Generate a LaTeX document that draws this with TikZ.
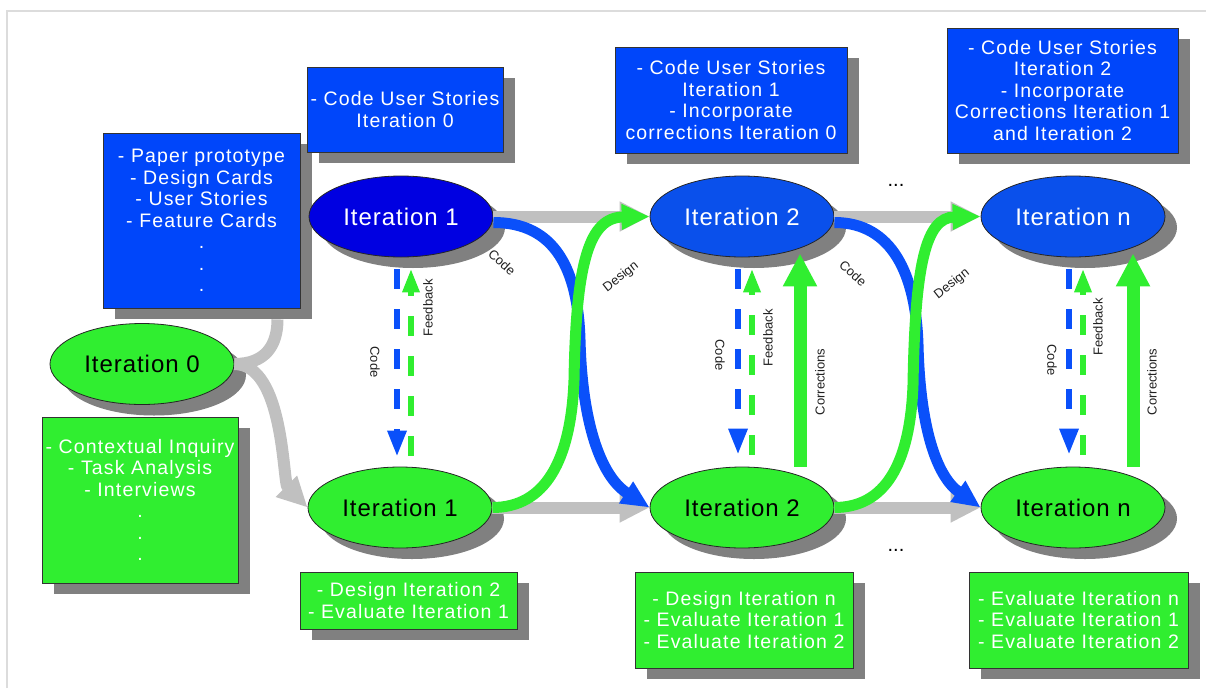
\documentclass[tikz,border=0pt]{standalone}
\usepackage{fontspec}
\setmainfont{Liberation Sans}
\newfontfamily\notefont[LetterSpace=6]{Liberation Sans}
\newfontfamily\iterfont[LetterSpace=4]{Liberation Sans}
\usetikzlibrary{arrows.meta,shapes.geometric,shadows,calc}

\definecolor{framegray}{HTML}{DCDCDC}
\definecolor{shadowgray}{HTML}{808080}
\definecolor{boxblue}{HTML}{0046FA}
\definecolor{ellblue}{HTML}{0A50EB}
\definecolor{deepblue}{HTML}{0000E1}
\definecolor{lime}{HTML}{30EE30}
\definecolor{arrowblue}{HTML}{0A50FA}
\definecolor{pathgray}{HTML}{C0C0C0}
\definecolor{labelgray}{HTML}{202020}

\tikzset{
  castshadow/.style={drop shadow={shadow xshift=12pt,shadow yshift=-11pt,fill=shadowgray,opacity=1}},
  iter/.style={ellipse, draw=black!85, line width=0.8pt, minimum width=184pt,
    minimum height=81pt, inner sep=0pt, font=\iterfont\fontsize{24}{30}\selectfont, castshadow},
  iterblue/.style={iter, fill=ellblue, text=white},
  iterdeep/.style={iter, fill=deepblue, text=white},
  itergreen/.style={iter, fill=lime, text=black},
  note/.style={rectangle, draw=black!80, line width=0.8pt, inner sep=0pt, align=center,
    text=white, font=\notefont\fontsize{19.5}{21.5}\selectfont, castshadow},
  noteblue/.style={note, fill=boxblue},
  notegreen/.style={note, fill=lime},
  graypath/.style={draw=pathgray, line width=12pt, -{Triangle[length=30pt,width=28pt]}},
  graystub/.style={draw=pathgray, line width=12pt},
  codecurve/.style={draw=arrowblue, line width=11pt, -{Triangle[length=28pt,width=24pt]}},
  designcurve/.style={draw=lime, line width=11pt, -{Triangle[length=28pt,width=24pt]}},
  codedash/.style={draw=arrowblue, line width=6pt, dash pattern=on 20pt off 20pt,
    -{Triangle[length=26pt,width=18pt]}},
  feeddash/.style={draw=lime, line width=6pt, dash pattern=on 20pt off 20pt,
    -{Triangle[length=24pt,width=16pt]}},
  corrarrow/.style={draw=lime, line width=13pt, -{Triangle[length=33pt,width=32pt]}},
  lbl/.style={font=\fontsize{13}{15}\selectfont, text=labelgray, inner sep=0pt},
  dots/.style={font=\fontsize{20}{22}\selectfont, inner sep=0pt}
}

\begin{document}
\begin{tikzpicture}[x=1pt,y=-1pt]
\useasboundingbox (0,0) rectangle (1206,688);

% page frame
\draw[framegray, line width=2.5pt] (7,688) -- (7,11) -- (1206,11);

% notes
\node[noteblue, minimum width=197pt, minimum height=175pt] (b0) at (201.5,220.5)
  {- Paper prototype\\- Design Cards\\- User Stories\\- Feature Cards\\.\\.\\.};
\node[noteblue, minimum width=196pt, minimum height=85pt] (b1) at (405,109.5)
  {- Code User Stories\\Iteration 0};
\node[noteblue, minimum width=232pt, minimum height=106pt] (b2) at (731,100)
  {- Code User Stories\\Iteration 1\\- Incorporate\\corrections Iteration 0};
\node[noteblue, minimum width=231pt, minimum height=125pt] (b3) at (1062.5,90.5)
  {- Code User Stories\\Iteration 2\\- Incorporate\\Corrections Iteration 1\\and Iteration 2};
\node[notegreen, minimum width=196pt, minimum height=166pt] (g0) at (140,500)
  {- Contextual Inquiry\\- Task Analysis\\- Interviews\\.\\.\\.};
\node[notegreen, minimum width=217pt, minimum height=57pt] (g1) at (408.5,600.5)
  {- Design Iteration 2\\- Evaluate Iteration 1};
\node[notegreen, minimum width=218pt, minimum height=96pt] (g2) at (744,620)
  {- Design Iteration n\\- Evaluate Iteration 1\\- Evaluate Iteration 2};
\node[notegreen, minimum width=219pt, minimum height=96pt] (g3) at (1078.5,620)
  {- Evaluate Iteration n\\- Evaluate Iteration 1\\- Evaluate Iteration 2};

% iterations
\node[itergreen] (it0) at (142,364) {Iteration 0};
\node[iterdeep]  (it1b) at (401,216.5) {Iteration 1};
\node[iterblue]  (it2b) at (742,216.5) {Iteration 2};
\node[iterblue]  (itnb) at (1073,216.5) {Iteration n};
\node[itergreen] (it1g) at (400,507.5) {Iteration 1};
\node[itergreen] (it2g) at (742,507.5) {Iteration 2};
\node[itergreen] (itng) at (1073,507.5) {Iteration n};

\node[dots] (gapt) at (896,185) {...};
\node[dots] (gapb) at (896,550) {...};

% iteration 0 branches
\coordinate (b0foot) at ($(b0.south)+(76,11)$);
\draw[graystub] (it0.east) .. controls +(31,0) and +(0,26) .. (b0foot);
\draw[graypath] (it0.east) .. controls +(50,0) and +(-25,-25) .. (it1g.west);

% straight progressions
\draw[graypath] (it1b.east) -- (it2b.west);
\draw[graypath] (it1g.east) -- (it2g.west);
\draw[graypath] (it2b.east) -- (itnb.west);
\draw[graypath] (it2g.east) -- (itng.west);

% crossing code / design flows
\coordinate (k1) at (580,340);
\coordinate (d1) at (574,380);
\coordinate (k2) at (918,345);
\coordinate (d2) at (913,385);
\draw[codecurve] ($(it1b.east)+(0,6)$) .. controls +(62,0) and +(-2,-70) .. (k1)
  .. controls +(2,80) and +(-50,-32) .. (it2g.west);
\draw[designcurve] (it1g.east) .. controls +(53,0) and +(-3,80) .. (d1)
  .. controls +(2,-120) and +(-60,1) .. (it2b.west);
\draw[codecurve] ($(it2b.east)+(0,6)$) .. controls +(58,0) and +(-2,-70) .. (k2)
  .. controls +(2,80) and +(-45,-32) .. (itng.west);
\draw[designcurve] (it2g.east) .. controls +(50,0) and +(-3,80) .. (d2)
  .. controls +(2,-120) and +(-55,1) .. (itnb.west);

\node[lbl, rotate=-42] (lc1) at (502,262) {Code};
\node[lbl, rotate=38]  (ld1) at (621,277) {Design};
\node[lbl, rotate=-42] (lc2) at (853,273) {Code};
\node[lbl, rotate=38]  (ld2) at (952,284) {Design};

% code / feedback loops
\draw[codedash] ($(it1b.south)+(-4,12)$) -- ($(it1g.north)+(-3,-10)$);
\draw[feeddash] ($(it1g.north)+(11,-11)$) -- ($(it1b.south)+(10,11)$);
\draw[codedash] ($(it2b.south)+(-4,12)$) -- ($(it2g.north)+(-4,-12)$);
\draw[feeddash] ($(it2g.north)+(10,-12)$) -- ($(it2b.south)+(10,11)$);
\draw[codedash] ($(itnb.south)+(-4,12)$) -- ($(itng.north)+(-4,-12)$);
\draw[feeddash] ($(itng.north)+(10,-12)$) -- ($(itnb.south)+(10,11)$);

\node[lbl, rotate=-90] (lk1) at (375,362) {Code};
\node[lbl, rotate=90]  (lf1) at (428,308) {Feedback};
\node[lbl, rotate=-90] (lk2) at (720,355) {Code};
\node[lbl, rotate=90]  (lf2) at (768,338) {Feedback};
\node[lbl, rotate=-90] (lk3) at (1052,360) {Code};
\node[lbl, rotate=90]  (lf3) at (1098,327) {Feedback};

% corrections
\draw[corrarrow] ($(it2g.north)+(58,0)$) -- ($(it2b.south)+(58,-4)$);
\draw[corrarrow] ($(itng.north)+(60,0)$) -- ($(itnb.south)+(60,-4)$);
\node[lbl, rotate=90] (lr2) at (820,382) {Corrections};
\node[lbl, rotate=90] (lr3) at (1152,382) {Corrections};
\end{tikzpicture}
\end{document}
